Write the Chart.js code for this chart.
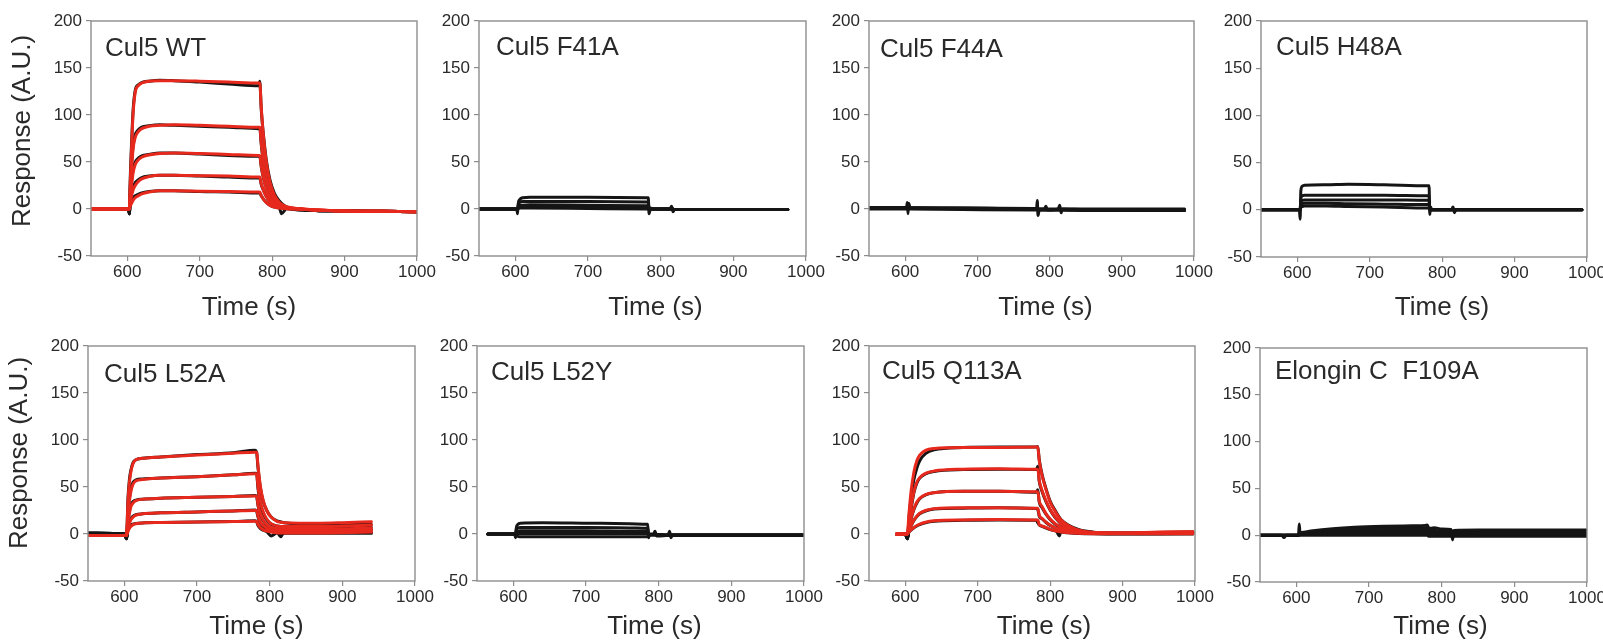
<!DOCTYPE html>
<html><head><meta charset="utf-8">
<script src="https://cdn.jsdelivr.net/npm/chart.js@4/dist/chart.umd.min.js"></script>
<style>
html,body{margin:0;padding:0;background:#fff;width:1603px;height:641px;overflow:hidden;position:relative}
canvas{position:absolute}
</style></head><body>
<script>
// ---------- tick labels ----------
const xTicks = [600, 700, 800, 900, 1000];
const yTicks = [-50, 0, 50, 100, 150, 200];
const xLabel = 'Time (s)';
const yLabel = 'Response (A.U.)';

// ---------- Cul5 WT ----------
const wtTime = [550, 580, 600, 602, 603, 604, 606, 608, 611, 615, 620, 630, 645, 665, 700, 740, 782, 783, 785, 788, 792, 797, 803, 810, 813, 820, 835, 860, 900, 950, 1000];
const wtData1 = [0.5, 0, 0, 0, -5, 28, 70, 104, 126, 132, 134.5, 136, 137, 136.5, 135, 133, 131, 136, 106, 79, 52, 31, 17, 8.5, 6, 2, -1, -1.5, -2, -2.5, -3];
const wtData2 = [0.5, 0, 0, 0, -5, 18, 47, 67, 79, 84, 87, 88.5, 89.5, 89, 88, 87, 85.5, 86, 69, 50, 34, 20, 11, 5.5, 4, 2, 0, -1.5, -2, -2.5, -3];
const wtData3 = [0.5, 0, 0, 0, -5, 12, 29, 42, 50, 54, 56.5, 58, 59.5, 59.5, 58.5, 57, 56, 56, 45, 33, 22, 13, 7, 3.5, 2.5, 1.2, 0, -1.5, -2, -2.5, -3];
const wtData4 = [0.5, 0, 0, 0, -5, 8, 17, 23, 28, 31, 33.5, 35, 36, 36, 35, 34, 33, 33, 26, 20, 13.5, 8, 4, 2, 1.5, 0.5, 0, -1.5, -2, -2.5, -3];
const wtData5 = [0.5, 0, 0, 0, -5, 5, 9, 12, 14, 15.5, 17, 18.5, 19.5, 19.5, 18.5, 18, 17, 17, 14, 10.5, 7, 4, 2, 1, -5, 0.3, 0, -1.5, -2, -2.5, -3];
const wtFit1 = [0, 0, 0, 0, 0, 25, 65, 100, 124, 131, 134, 136, 136.5, 136.5, 136, 135, 134, 134, 108, 78, 50, 29, 15, 7, 5, 2.4, 0.5, -1, -2, -2.5, -3];
const wtFit2 = [0, 0, 0, 0, 0, 15, 42, 63, 76, 82, 85.5, 88, 89, 89.5, 89, 88, 87, 87, 70, 50, 33, 19, 10, 4.6, 3.2, 1.6, 0.3, -1, -2, -2.5, -3];
const wtFit3 = [0, 0, 0, 0, 0, 10, 25, 38, 47, 52, 55, 57.5, 59, 59.5, 59, 58, 57, 57, 46, 33, 21, 12, 6.4, 3, 2, 1, 0.2, -1, -2, -2.5, -3];
const wtFit4 = [0, 0, 0, 0, 0, 6, 14, 20, 25, 29, 32, 34.5, 36, 36, 35.5, 35, 34, 34, 27, 20, 13, 7.4, 3.8, 1.8, 1.2, 0.6, 0.1, -1, -2, -2.5, -3];
const wtFit5 = [0, 0, 0, 0, 0, 3, 6, 9, 12, 14, 16, 18, 19.5, 19.5, 19, 18.5, 18, 18, 14.5, 10.4, 6.8, 3.9, 2, 1, 0.7, 0.3, 0, -1, -2, -2.5, -3];

// ---------- Cul5 F41A ----------
const f41Time = [550, 600, 602, 603, 604, 606, 610, 620, 700, 780, 782, 783, 784, 786, 790, 800, 813, 815, 817, 819, 850, 900, 975];
const f41Data1 = [0, 0, 0, -5, 6, 10, 12, 12.5, 12.5, 12, 12, 12, -5, 1, 0, 0, 0, 3, -3, -0.5, -0.5, -0.5, -0.5];
const f41Data2 = [0, 0, 0, 0, 4, 7, 8, 8, 8, 7.5, 7.5, 7.5, 0, 0, 0, 0, 0, 0, 0, -0.5, -0.5, -0.5, -0.5];
const f41Data3 = [0, 0, 0, 0, 2, 3.5, 4, 4.5, 4, 3.5, 3.5, 3.5, 0, 0, 0, 0, 0, 0, 0, -0.5, -0.5, -0.5, -0.5];
const f41Data4 = [0, 0, 0, 0, 1, 2, 2.5, 2.5, 2, 1.5, 1.5, 1.5, 0, 0, 0, 0, 0, 0, 0, -0.5, -0.5, -0.5, -0.5];
const f41Data5 = [0, 0, 0, 0, 0.5, 1, 1, 1, 0.5, 0, 0, 0, -1, 0, 0, 0, 0, 0, 0, -0.5, -0.5, -0.5, -0.5];

// ---------- Cul5 F44A ----------
const f44Time = [550, 600, 602, 603, 604, 605, 607, 680, 780, 782, 783, 784, 786, 793, 795, 797, 812, 814, 816, 818, 850, 900, 987];
const f44Data1 = [1.5, 1.5, 1.5, 7, -5, 6, 1.5, 1, 0, 0, 9, -7, 0, 0, 3, -1, 0, 4, -4, 0, -0.5, -0.5, -1];
const f44Data2 = [1, 1, 1, 1, 1, 1, 1, 0.5, 0, 0, 0, 0, -0.5, -0.5, -0.5, -0.5, -0.5, -0.5, -0.5, -0.5, -1, -1, -1];
const f44Data3 = [0.5, 0.5, 0.5, 0.5, 0.5, 0.5, 0.5, 0, -0.5, -0.5, -0.5, -0.5, -1, -1, -1, -1, -1, -1, -1, -1, -1.5, -1.5, -1.5];
const f44Data4 = [0, 0, 0, 0, 0, 0, 0, -0.5, -1, -1, -1, -1, -1, -1, -1, -1, -1, -1, -1, -1, -1, -1, -1];
const f44Data5 = [1, 1, 1, 1, 1, 1, 1, 1, 0.5, 0.5, 0.5, 0.5, 0, 0, 0, 0, 0, 0, 0, 0, 0, 0, 0];

// ---------- Cul5 H48A ----------
const h48Time = [550, 600, 603, 604, 605, 607, 610, 640, 670, 720, 780, 782, 783, 784, 786, 790, 800, 813, 815, 817, 819, 850, 900, 950, 993];
const h48Data1 = [0, 0, 0, -10, 20, 25, 26, 26.5, 27, 26.5, 25.5, 25.5, -5, 3, 0, 0, 0, 0, 3, -3, 0, 0, 0, 0, 0];
const h48Data2 = [0, 0, 0, 0, 12, 15, 15.5, 15.5, 15.5, 15.5, 15, 15, 0, 0, 0, 0, 0, 0, 0, 0, 0, 0, 0, 0, 0];
const h48Data3 = [0, 0, 0, 0, 8, 10, 10.5, 10.5, 10.5, 10.5, 10, 10, 0, 0, 0, 0, 0, 0, 0, 0, 0, 0, 0, 0, 0];
const h48Data4 = [0, 0, 0, 0, 5, 6.5, 7, 7, 6.5, 6, 5.5, 5.5, 0, 0, 0, 0, 0, 0, 0, 0, 0, 0, 0, 0, 0];
const h48Data5 = [0, 0, 0, 0, 2.5, 3.5, 4, 4, 3.5, 3, 2, 2, 0, 0, 0, 0, 0, 0, 0, 0, 0, 0, 0, 0, 0];

// ---------- Cul5 L52A ----------
const l52aTime = [550, 585, 600, 603, 605, 607, 609, 612, 616, 625, 650, 700, 750, 780, 782, 784, 787, 791, 796, 802, 810, 815, 820, 840, 870, 900, 940];
const l52aData1 = [0.8, 0.5, 0, -5, 38, 58, 68, 76, 79, 80.5, 82, 84.5, 86.5, 89, 87, 70, 50, 35, 25, 18, 14, 13, 12, 11, 10.5, 10, 10];
const l52aData2 = [0.8, 0.5, 0, -5, 22, 38, 48, 55, 57.5, 58.5, 59.5, 61, 63, 64.5, 64, 48, 33, 22, 15, 10.5, 8.5, 8, 7.5, 7, 7, 7, 7];
const l52aData3 = [0.8, 0.5, 0, -5, 14, 24, 31, 34.5, 36, 37, 38, 39, 40, 41, 40, 30, 21, 14, 9.5, 6.5, 5, 4.5, 4.5, 4.5, 4.5, 4.5, 4.5];
const l52aData4 = [0.8, 0.5, 0, -5, 8, 13, 16.5, 19, 20.5, 21.5, 22.5, 23.5, 24.5, 25.5, 24.5, 18, 12, 8, 5.5, 3.5, 2.5, -3, 2, 2, 2, 2, 2];
const l52aData5 = [0.8, 0.5, 0, -5, 4, 7.5, 9.5, 10.5, 11.2, 11.8, 12.2, 12.8, 13.3, 14, 13, 9, 6, 4, 2.5, -2, 1, 0.8, 0.8, 0.8, 0.8, 0.8, 0.8];
const l52aFit1 = [-1.5, -1.5, -1.5, -1.5, 35, 55, 66, 75, 79, 80.5, 82, 84, 86, 87, 87, 72, 52, 36, 25, 18, 13.5, 12.5, 12, 11.5, 11.5, 12, 13];
const l52aFit2 = [-1.5, -1.5, -1.5, -1.5, 20, 35, 45, 53, 56.5, 58, 59.5, 61, 63, 64, 64, 50, 35, 24, 16, 11, 8.5, 8, 8, 8, 8, 8.5, 9.5];
const l52aFit3 = [-1.5, -1.5, -1.5, -1.5, 12, 22, 29, 33, 35.5, 37, 38, 39, 40, 40.5, 40.5, 31, 22, 15, 10, 7, 5.5, 5, 5, 5, 5.2, 5.5, 6.5];
const l52aFit4 = [-1.5, -1.5, -1.5, -1.5, 6, 11, 15, 18, 20, 21.5, 22.5, 23.5, 24.5, 25, 25, 19, 13, 9, 6, 4, 3, 2.8, 2.8, 2.8, 3, 3.3, 4];
const l52aFit5 = [-1.5, -1.5, -1.5, -1.5, 3, 6, 8, 10, 11, 11.8, 12.2, 12.8, 13.3, 13.6, 13.6, 10, 7, 4.5, 3, 2, 1.2, 1, 1, 1, 1, 1.3, 2];

// ---------- Cul5 L52Y ----------
const l52yTime = [565, 600, 602, 603, 604, 606, 610, 640, 700, 760, 784, 785, 786, 788, 793, 795, 797, 813, 815, 817, 819, 850, 900, 950, 1000];
const l52yData1 = [0, 0, 0, -4, 6, 10, 11.5, 12, 11.5, 11, 10.5, 10.5, -4, 0, 0, 3, -2, -1, 3, -4, -1, -1, -1, -1, -1];
const l52yData2 = [0, 0, 0, 0, 4, 6.5, 7, 7, 7, 6.5, 6, 6, 0, -0.5, -0.5, -0.5, -0.5, -1, -1, -1, -1, -1, -1, -1, -1];
const l52yData3 = [0, 0, 0, 0, 2, 3, 3.5, 3.5, 3.5, 3, 3, 3, -0.5, -0.5, -0.5, -0.5, -0.5, -1, -1, -1, -1, -1, -1, -1, -1];
const l52yData4 = [0, 0, 0, 0, 0, 0.5, 0.5, 0.5, 0.5, 0.5, 0.5, 0.5, -0.5, -1, -1, -1, -1, -1, -1, -1, -1, -1, -1, -1, -1];
const l52yData5 = [0, 0, 0, -3, -2, -2.5, -3, -3, -3, -3, -3, -3, -1, -1, -1, -1, -1, -1.5, -1.5, -1.5, -1.5, -1.5, -1.5, -1.5, -1.5];

// ---------- Cul5 Q113A ----------
const q113Time = [588, 600, 603, 605, 608, 612, 616, 620, 628, 640, 680, 730, 781, 783, 785, 789, 794, 800, 807, 813, 815, 825, 840, 860, 900, 950, 997];
const q113Data1 = [0, 0, -5, 15, 38, 58, 70, 78, 85.5, 89.5, 92, 92.5, 92.5, 93, 79, 63, 49, 35, 25, 17.5, 15.5, 9.5, 4.5, 2, 1, 1.5, 2];
const q113Data2 = [0, 0, -5, 10, 26, 44, 54, 59.5, 64, 66.5, 68.5, 69, 68.5, 72, 56, 45, 35, 25.5, 17.5, 12.5, 10.5, 6, 3, 1.5, 1, 1, 1.5];
const q113Data3 = [0, 0, -5, 6, 16, 26, 33, 37.5, 41.5, 44, 45.5, 45.5, 44.5, 47, 34, 28, 21.5, 15.5, 10.5, 7.5, 7, 4, 2, 1, 0.5, 0.5, 1];
const q113Data4 = [0, 0, -5, 3, 8.5, 14.5, 18.5, 21.5, 24.5, 26.5, 27.5, 28, 27, 26, 19, 16, 12.5, 9, 6, -2, 4, 2.5, 1.2, 0.5, 0.3, 0.3, 0.5];
const q113Data5 = [0, 0, -5, 1.5, 4, 6.5, 8.5, 10, 12, 13.5, 14.5, 15, 14.5, 12, 9.5, 8, 6.5, 4.8, 3.3, 2.5, 2, 1.3, 0.6, 0.2, 0, 0, 0];
const q113Fit1 = [0, 0, 0, 20, 45, 66, 78, 84, 89, 91, 92, 92, 92.5, 92.5, 78, 62, 48, 34, 24, 17, 15, 9, 4, 1.5, 1, 2, 2.5];
const q113Fit2 = [0, 0, 0, 12, 28, 45, 55, 60, 64.5, 67, 69, 69.5, 69, 69, 57, 46, 36, 26, 18, 13, 11, 6.5, 3, 1.5, 1, 1.5, 2];
const q113Fit3 = [0, 0, 0, 7, 17, 27, 34, 38, 42, 44, 45.5, 45.5, 45, 45, 35, 29, 22, 16, 11, 8, 7, 4, 2, 1, 0.8, 1, 1.5];
const q113Fit4 = [0, 0, 0, 4, 9, 15, 19, 22, 25, 27, 28, 28, 27.5, 27.5, 20, 16.5, 13, 9.5, 6.5, 4.8, 4, 2.5, 1.2, 0.6, 0.5, 0.6, 1];
const q113Fit5 = [0, 0, 0, 2, 4.5, 7, 9, 10.5, 12.5, 14, 15, 15.3, 15, 15, 10, 8.5, 7, 5, 3.5, 2.6, 2.2, 1.4, 0.7, 0.3, 0.2, 0.2, 0.3];

// ---------- Elongin C F109A ----------
const ecTime = [550, 580, 583, 586, 600, 603, 604, 605, 607, 620, 650, 680, 720, 760, 778, 780, 782, 785, 790, 800, 813, 815, 817, 850, 900, 1000];
const ecData1 = [0, 0, -2.5, 0, 0, 0, 12, 3, 3, 4.5, 7, 8.5, 9.5, 10, 10.5, 11, 8, 7.5, 8, 6.5, 6, -5, 5, 5.5, 5.5, 5.5];
const ecData2 = [0, 0, 0, 0, 0, 0, 2.5, 2.5, 2.5, 3.5, 5.5, 6.5, 7.5, 8, 8, 8, 5.5, 5, 5, 4.5, 4.5, 4.5, 4.5, 4, 4, 4];
const ecData3 = [0, 0, 0, 0, 0, 0, 1.5, 1.5, 1.5, 2.5, 3.5, 4.5, 5, 5.5, 5.5, 5.5, 3.5, 3, 3, 3, 3, 3, 3, 2.5, 2.5, 2.5];
const ecData4 = [0, 0, 0, 0, 0, 0, 1, 1, 1, 1.5, 2, 2.5, 3, 3, 3, 3, 1.5, 1.5, 1.5, 1.5, 1.5, 1.5, 1.5, 1, 1, 1];
const ecData5 = [0, 0, 0, 0, 0, 0, 0, 0, 0, 0, 0, 0, 0, 0, 0, 0, -1, -1, -1, -1, -1, -1, -1, -1, -1, -1];

// ---------- panel contents ----------
const panels = [
  {title: 'Cul5 WT', time: wtTime, data: [wtData1, wtData2, wtData3, wtData4, wtData5], fits: [wtFit1, wtFit2, wtFit3, wtFit4, wtFit5], ylab: true},
  {title: 'Cul5 F41A', time: f41Time, data: [f41Data1, f41Data2, f41Data3, f41Data4, f41Data5], fits: []},
  {title: 'Cul5 F44A', time: f44Time, data: [f44Data1, f44Data2, f44Data3, f44Data4, f44Data5], fits: []},
  {title: 'Cul5 H48A', time: h48Time, data: [h48Data1, h48Data2, h48Data3, h48Data4, h48Data5], fits: []},
  {title: 'Cul5 L52A', time: l52aTime, data: [l52aData1, l52aData2, l52aData3, l52aData4, l52aData5], fits: [l52aFit1, l52aFit2, l52aFit3, l52aFit4, l52aFit5], ylab: true},
  {title: 'Cul5 L52Y', time: l52yTime, data: [l52yData1, l52yData2, l52yData3, l52yData4, l52yData5], fits: []},
  {title: 'Cul5 Q113A', time: q113Time, data: [q113Data1, q113Data2, q113Data3, q113Data4, q113Data5], fits: [q113Fit1, q113Fit2, q113Fit3, q113Fit4, q113Fit5]},
  {title: 'Elongin C  F109A', time: ecTime, data: [ecData1, ecData2, ecData3, ecData4, ecData5], fits: []}
];

// ---------- layout (plot-area pixel boxes) & styles ----------
const layout = [
  {l: 91,   t: 21,  r: 417,  b: 256, tx: 14, ty: 35, xt: 59, xdx: -5, yc: 110},
  {l: 479,  t: 21,  r: 806,  b: 256, tx: 17, ty: 34, xt: 59, xdx: 13},
  {l: 869,  t: 21,  r: 1194, b: 256, tx: 11, ty: 36, xt: 59, xdx: 14},
  {l: 1261, t: 21,  r: 1587, b: 257, tx: 15, ty: 34, xt: 58, xdx: 18},
  {l: 88,   t: 346, r: 415,  b: 581, tx: 16, ty: 36, xt: 53, xdx: 5, yc: 107},
  {l: 477,  t: 346, r: 804,  b: 581, tx: 14, ty: 34, xt: 53, xdx: 14},
  {l: 869,  t: 346, r: 1195, b: 581, tx: 13, ty: 33, xt: 53, xdx: 12},
  {l: 1260, t: 348, r: 1587, b: 582, tx: 15, ty: 31, xt: 52, xdx: 17}
];
const PADL = 92, PADT = 16, PADR = 32, PADB = 66;
const FONT = '"Liberation Sans", Arial, Helvetica, sans-serif';
const FRAME = '#8d8d8d';
const TEXT = '#2a2a2a';
const BLACK = '#151515';
const RED = '#e7291d';

Chart.defaults.font.family = FONT;

const decor = {
  id: 'decor',
  afterDraw(chart, args, o) {
    const {ctx, chartArea: a} = chart;
    ctx.save();
    ctx.strokeStyle = FRAME;
    ctx.lineWidth = 1.4;
    ctx.strokeRect(a.left, a.top, a.right - a.left, a.bottom - a.top);
    ctx.fillStyle = TEXT;
    ctx.font = '26px ' + FONT;
    ctx.textBaseline = 'alphabetic';
    ctx.textAlign = 'left';
    ctx.fillText(o.title, a.left + o.tx, a.top + o.ty);
    ctx.textAlign = 'center';
    ctx.fillText(xLabel, (a.left + a.right) / 2 + o.xdx, a.bottom + o.xt);
    if (o.ylab) {
      ctx.translate(a.left - 68, a.top + o.yc);
      ctx.rotate(-Math.PI / 2);
      ctx.textBaseline = 'middle';
      ctx.fillText(yLabel, 0, 0);
    }
    ctx.restore();
  }
};

panels.forEach((p, i) => {
  const L = layout[i];
  const c = document.createElement('canvas');
  const w = (L.r - L.l) + PADL + PADR;
  const h = (L.b - L.t) + PADT + PADB;
  c.width = w; c.height = h;
  c.style.left = (L.l - PADL) + 'px';
  c.style.top = (L.t - PADT) + 'px';
  c.style.width = w + 'px'; c.style.height = h + 'px';
  document.body.appendChild(c);

  const toXY = arr => p.time.map((t, k) => ({x: t, y: arr[k]}));
  const datasets = [];
  p.data.forEach(arr => datasets.push({data: toXY(arr), borderColor: BLACK, borderWidth: 3, order: 2}));
  p.fits.forEach(arr => datasets.push({data: toXY(arr), borderColor: RED, borderWidth: 3, order: 1}));

  new Chart(c, {
    type: 'line',
    data: {datasets},
    options: {
      responsive: false,
      animation: false,
      devicePixelRatio: 1,
      layout: {padding: {left: 0, top: PADT, right: PADR, bottom: 0}},
      elements: {
        point: {radius: 0, hoverRadius: 0},
        line: {cubicInterpolationMode: 'monotone', borderCapStyle: 'round', borderJoinStyle: 'round', fill: false}
      },
      plugins: {
        legend: {display: false},
        tooltip: {enabled: false},
        decor: {title: p.title, ylab: !!p.ylab, tx: L.tx, ty: L.ty, xt: L.xt, xdx: L.xdx, yc: L.yc || 110}
      },
      scales: {
        x: {
          type: 'linear', min: 550, max: 1000,
          afterBuildTicks: s => { s.ticks = xTicks.map(v => ({value: v})); },
          afterFit: s => { s.height = PADB; },
          grid: {display: true, drawOnChartArea: false, drawTicks: true, tickLength: 5, color: FRAME, lineWidth: 1.2},
          border: {display: false},
          ticks: {color: TEXT, font: {size: 17, family: FONT}, padding: 1, maxRotation: 0, autoSkip: false, callback: v => String(v)}
        },
        y: {
          type: 'linear', min: -50, max: 200,
          afterBuildTicks: s => { s.ticks = yTicks.map(v => ({value: v})); },
          afterFit: s => { s.width = PADL; },
          grid: {display: true, drawOnChartArea: false, drawTicks: true, tickLength: 5, color: FRAME, lineWidth: 1.2},
          border: {display: false},
          ticks: {color: TEXT, font: {size: 17, family: FONT}, padding: 4, autoSkip: false, callback: v => String(v)}
        }
      }
    },
    plugins: [decor]
  });
});
</script>
</body></html>
